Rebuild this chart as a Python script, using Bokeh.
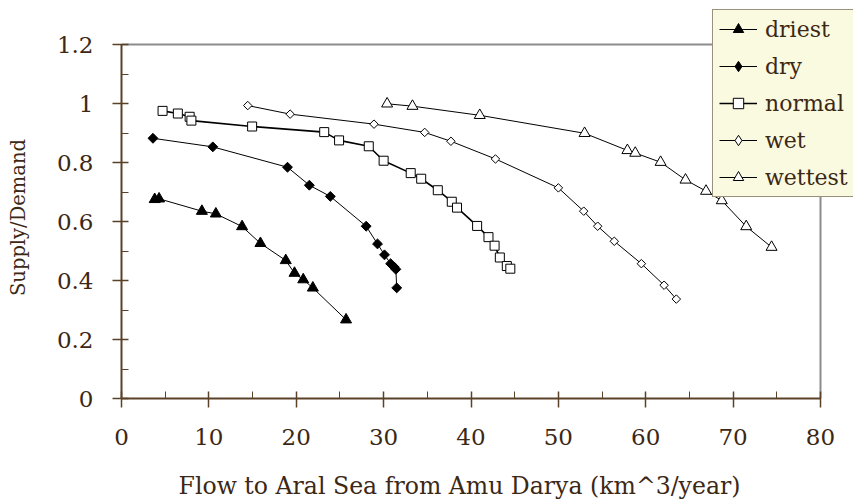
import math
from bokeh.plotting import figure
from bokeh.models import Range1d, FixedTicker, Legend, LegendItem, ColumnDataSource, Label
from bokeh.embed import file_html
from bokeh.resources import INLINE

# ---- data ----
driest_x = [3.8, 4.3, 9.2, 10.8, 13.8, 15.9, 18.8, 19.8, 20.8, 21.9, 25.7]
driest_y = [0.675, 0.677, 0.635, 0.626, 0.583, 0.526, 0.468, 0.425, 0.403, 0.375, 0.267]

dry_x = [3.6, 10.45, 19.0, 21.5, 23.9, 28.0, 29.3, 30.1, 30.8, 31.2, 31.4, 31.5]
dry_y = [0.882, 0.853, 0.784, 0.723, 0.685, 0.584, 0.524, 0.487, 0.457, 0.446, 0.438, 0.375]

normal_x = [4.7, 6.45, 7.8, 8.0, 14.95, 23.2, 24.9, 28.3, 30.0, 33.1, 34.3, 36.2, 37.8,
            38.4, 40.7, 42.0, 42.7, 43.3, 44.1, 44.5]
normal_y = [0.975, 0.966, 0.955, 0.942, 0.922, 0.903, 0.875, 0.855, 0.806, 0.764, 0.745,
            0.706, 0.667, 0.647, 0.585, 0.547, 0.518, 0.478, 0.449, 0.44]

wet_x = [14.45, 19.3, 28.9, 34.7, 37.7, 42.8, 50.0, 52.9, 54.5, 56.4, 59.5, 62.1, 63.5]
wet_y = [0.993, 0.964, 0.93, 0.902, 0.872, 0.812, 0.714, 0.635, 0.584, 0.533, 0.457, 0.384, 0.337]

wettest_x = [30.4, 33.3, 41.0, 53.0, 57.9, 58.8, 61.7, 64.55, 66.9, 68.7, 71.5, 74.4]
wettest_y = [0.999, 0.991, 0.96, 0.899, 0.841, 0.832, 0.801, 0.741, 0.703, 0.671, 0.583, 0.513]

series_names = ["driest", "dry", "normal", "wet", "wettest"]

x_min, x_max = 0, 80
y_min, y_max = 0, 1.2
x_ticks = [0, 10, 20, 30, 40, 50, 60, 70, 80]
x_minor = [5, 15, 25, 35, 45, 55, 65, 75]
y_ticks = [0, 0.2, 0.4, 0.6, 0.8, 1.0, 1.2]
y_tick_labels = ["0", "0.2", "0.4", "0.6", "0.8", "1", "1.2"]
y_minor = [0.1, 0.3, 0.5, 0.7, 0.9, 1.1]

x_title = "Flow to Aral Sea from Amu Darya (km^3/year)"
y_title = "Supply/Demand"

FONT = "DejaVu Serif"
AXIS_BROWN = "#5a4128"
TEXT_BROWN = "#3c2814"
BORDER_GRAY = "#8c8c8c"

# Page / plot-box geometry in pixels. The frame covers the whole canvas so
# the legend may overhang the plot box, as in the reference.
W, H = 853, 502
BOX_LEFT, BOX_TOP, BOX_RIGHT, BOX_BOTTOM = 121, 44, 820, 398
sx = (BOX_RIGHT - BOX_LEFT) / (x_max - x_min)
sy = (BOX_BOTTOM - BOX_TOP) / (y_max - y_min)
x_range = Range1d(x_min - BOX_LEFT / sx, x_max + (W - BOX_RIGHT) / sx)
y_range = Range1d(y_min - (H - BOX_BOTTOM) / sy, y_max + BOX_TOP / sy)

p = figure(width=W, height=H, output_backend="svg", toolbar_location=None,
           x_range=x_range, y_range=y_range,
           min_border_left=0, min_border_right=0, min_border_top=0, min_border_bottom=0)
p.xgrid.visible = False
p.ygrid.visible = False
p.outline_line_color = None
p.background_fill_color = "white"
p.border_fill_color = "white"

p.xaxis.ticker = FixedTicker(ticks=x_ticks, minor_ticks=x_minor)
p.yaxis.ticker = FixedTicker(ticks=y_ticks, minor_ticks=y_minor)
p.yaxis.major_label_overrides = {t: l for t, l in zip(y_ticks, y_tick_labels)}
p.xaxis.bounds = (x_min, x_max)
p.yaxis.bounds = (y_min, y_max)
p.xaxis.fixed_location = y_min
p.yaxis.fixed_location = x_min

for ax in (p.xaxis[0], p.yaxis[0]):
    ax.axis_line_color = AXIS_BROWN
    ax.axis_line_width = 2
    ax.major_tick_line_color = AXIS_BROWN
    ax.minor_tick_line_color = AXIS_BROWN
    ax.major_tick_line_width = 1.5
    ax.minor_tick_line_width = 1
    ax.major_tick_in = 7
    ax.major_tick_out = 9
    ax.minor_tick_in = 7
    ax.minor_tick_out = 0
    ax.major_label_text_font = FONT
    ax.major_label_text_font_size = "23px"
    ax.major_label_text_color = TEXT_BROWN

p.xaxis.major_label_standoff = 21
p.yaxis.major_label_standoff = 19

# gray top and right edges of the plot box
p.segment(x0=[x_min, x_max], y0=[y_max, y_min], x1=[x_max, x_max], y1=[y_max, y_max],
          line_color=BORDER_GRAY, line_width=2)

# axis titles (screen units: from frame left / frame bottom)
p.add_layout(Label(x=459, y=H - 485, x_units="screen", y_units="screen", text=x_title,
                   text_align="center", text_baseline="middle", text_font=FONT,
                   text_font_size="23.6px", text_color=TEXT_BROWN))
p.add_layout(Label(x=18, y=H - 217, x_units="screen", y_units="screen", text=y_title,
                   angle=math.pi / 2, text_align="center", text_baseline="middle",
                   text_font=FONT, text_font_size="19.5px", text_color=TEXT_BROWN))

# marker: (shape, size, fill, angle, line width, legend shape, legend size)
styles = [
    ("triangle", 11, "black", 0, 1.0, "triangle", 10),
    ("square", 7, "black", math.pi / 4, 1.0, "diamond", 10),
    ("square", 9, "white", 0, 1.6, "square", 8),
    ("square", 6, "white", math.pi / 4, 1.0, "diamond", 9),
    ("triangle", 11, "white", 0, 1.0, "triangle", 10),
]
series_x = [driest_x, dry_x, normal_x, wet_x, wettest_x]
series_y = [driest_y, dry_y, normal_y, wet_y, wettest_y]

items = []
for name, xs, ys, (marker, size, fill, ang, lw, lmarker, lsize) in zip(
        series_names, series_x, series_y, styles):
    src = ColumnDataSource(dict(x=xs, y=ys))
    ln = p.line("x", "y", source=src, line_color="black", line_width=lw)
    p.scatter("x", "y", source=src, marker=marker, size=size, angle=ang,
              fill_color=fill, line_color="black", line_width=1)
    # hidden legend-only key glyph, so the key shows the marker's true outline
    key = p.scatter("x", "y", source=src, marker=lmarker, size=lsize,
                    fill_color=fill, line_color="black", line_width=1, visible=False)
    items.append(LegendItem(label=name, renderers=[ln, key]))

legend = Legend(items=items, location=(712, H - 197))
legend.background_fill_color = "#fafae1"
legend.background_fill_alpha = 1
legend.inactive_fill_alpha = 0
legend.border_line_color = TEXT_BROWN
legend.border_line_width = 1.5
legend.label_text_font = FONT
legend.label_text_font_size = "22px"
legend.label_text_color = TEXT_BROWN
legend.glyph_width = 38
legend.glyph_height = 26
legend.label_height = 26
legend.label_standoff = 8
legend.spacing = 11
legend.padding = 6
legend.margin = 0
p.add_layout(legend, "center")

open("out.html", "w").write(file_html(p, INLINE))
